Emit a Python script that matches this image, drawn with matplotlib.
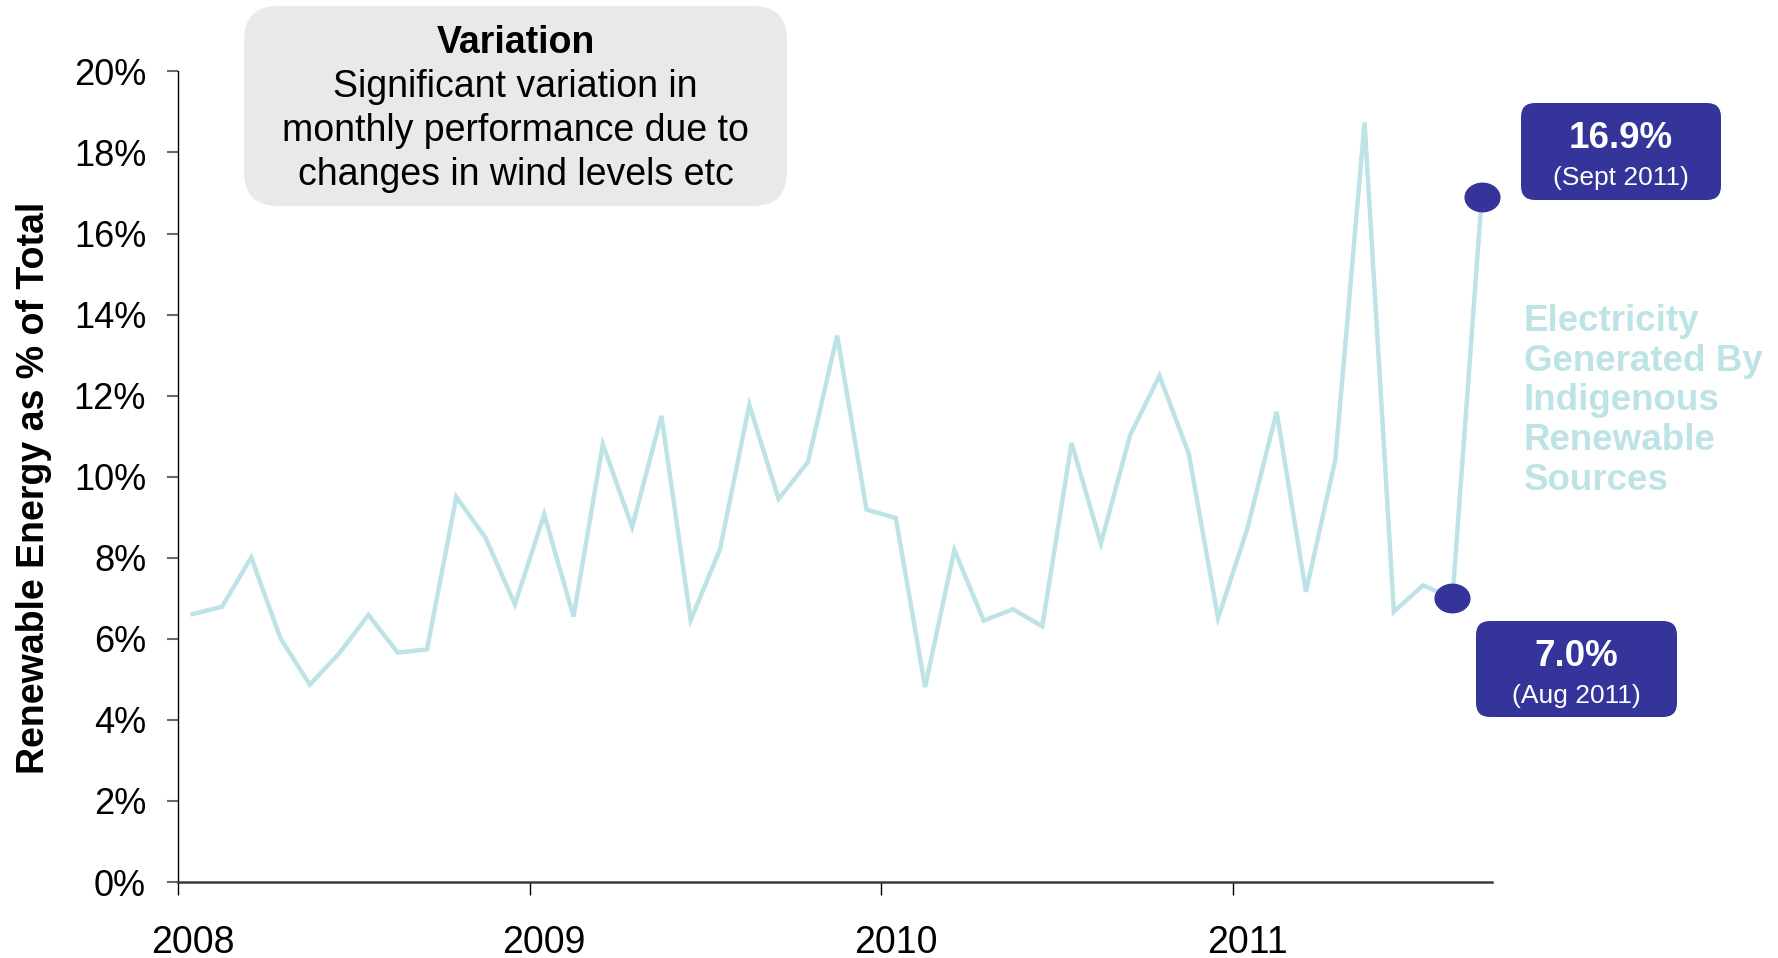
import numpy as np
import matplotlib
matplotlib.use("Agg")
import matplotlib.pyplot as plt
from matplotlib.patches import FancyBboxPatch
from matplotlib.path import Path
from matplotlib.transforms import Affine2D

plt.rcParams['font.family'] = ['Liberation Sans', 'DejaVu Sans']

# Monthly renewable share of electricity (%), Jan 2008 - Sep 2011
share_2008 = [6.61, 6.79, 8.01, 6.01, 4.87, 5.64, 6.59, 5.66, 5.74, 9.50, 8.49, 6.85]
share_2009 = [9.07, 6.55, 10.80, 8.76, 11.50, 6.46, 8.21, 11.77, 9.45, 10.36, 13.48, 9.19]
share_2010 = [8.98, 4.81, 8.19, 6.45, 6.73, 6.31, 10.83, 8.35, 11.03, 12.49, 10.57, 6.51]
share_2011 = [8.72, 11.60, 7.16, 10.41, 18.74, 6.67, 7.32, 7.0, 16.9]

years = ['2008', '2009', '2010', '2011']
highlight_labels = ['(Aug 2011)', '(Sept 2011)']
y_ticks = [0, 2, 4, 6, 8, 10, 12, 14, 16, 18, 20]

LINE_COLOR = '#bde3e6'
NAVY = '#35349a'
BOX_GRAY = '#e9e9e9'

W, H = 1778, 958


def ellipse_marker():
    """Slightly flattened circle, like the dots in the original slide."""
    return Path.unit_circle().transformed(Affine2D().scale(1.22, 1.0))


def main():
    share = np.array(share_2008 + share_2009 + share_2010 + share_2011)
    # points sit in the middle of each month
    x = np.arange(len(share)) + 0.5

    fig = plt.figure(figsize=(W / 100, H / 100), dpi=100)
    ax = fig.add_axes([178 / W, 1 - 882 / H, (1492 - 178) / W, (882 - 71.4) / H])

    ax.plot(x, share, color=LINE_COLOR, lw=3.2, solid_joinstyle='miter', zorder=2)
    ax.plot(x[-2:], share[-2:], ls='none', marker=ellipse_marker(), ms=25,
            color=NAVY, zorder=3, clip_on=False)

    ax.set_xlim(0, 44.85)
    ax.set_ylim(0, 20)
    # year ticks at the start of each year, labels sit under January
    year_starts = np.arange(len(years)) * 12
    ax.set_xticks(year_starts)
    ax.set_xticklabels([])
    ax.set_xticks(year_starts + 0.5, minor=True)
    ax.set_xticklabels(years, minor=True)
    ax.set_yticks(y_ticks)
    ax.set_yticklabels([f"{t}%" for t in y_ticks])

    ax.spines['top'].set_visible(False)
    ax.spines['right'].set_visible(False)
    ax.spines['left'].set_color('black')
    ax.spines['left'].set_linewidth(1)
    ax.spines['bottom'].set_color('#3a3a3a')
    ax.spines['bottom'].set_linewidth(1.8)

    ax.tick_params(axis='y', length=8, width=1.5, color='#6a6a6a', pad=15, labelsize=26)
    ax.tick_params(axis='x', which='major', length=9, width=1, color='black')
    ax.tick_params(axis='x', which='minor', length=0, pad=31, labelsize=27)

    # overlay in pixel units for the callouts
    ov = fig.add_axes([0, 0, 1, 1], zorder=5)
    ov.set_xlim(0, W)
    ov.set_ylim(H, 0)
    ov.axis('off')
    ov.patch.set_visible(False)

    ov.text(34, 488, 'Renewable Energy as % of Total', rotation=90, ha='center',
            va='center', fontsize=27, fontweight='bold')

    # Variation note
    ov.add_patch(FancyBboxPatch((244, 6), 787 - 244, 206 - 6,
                                boxstyle='round,pad=0,rounding_size=34',
                                fc=BOX_GRAY, ec='none'))
    ov.text(515.5, 43, 'Variation', ha='center', va='center', fontsize=27, fontweight='bold')
    ov.text(515.5, 131, 'Significant variation in\nmonthly performance due to\nchanges in wind levels etc',
            ha='center', va='center', fontsize=27, linespacing=1.29)

    # series label
    ov.text(1524, 401, 'Electricity\nGenerated By\nIndigenous\nRenewable\nSources',
            ha='left', va='center', fontsize=26.5, fontweight='bold', color=LINE_COLOR,
            linespacing=1.17)

    # value callouts
    callouts = [
        (share[-1], highlight_labels[1], (1521, 103, 1721, 200)),
        (share[-2], highlight_labels[0], (1476, 621, 1677, 717)),
    ]
    for value, label, (x0, y0, x1, y1) in callouts:
        ov.add_patch(FancyBboxPatch((x0, y0), x1 - x0, y1 - y0,
                                    boxstyle='round,pad=0,rounding_size=14',
                                    fc=NAVY, ec='none'))
        cx = (x0 + x1) / 2
        ov.text(cx, y0 + 35, f"{value:.1f}%", ha='center', va='center', color='white',
                fontsize=26.5, fontweight='bold')
        ov.text(cx, y0 + 75, label, ha='center', va='center', color='white', fontsize=19)

    fig.savefig('out.png', dpi=100)
    plt.close(fig)


if __name__ == "__main__":
    main()
